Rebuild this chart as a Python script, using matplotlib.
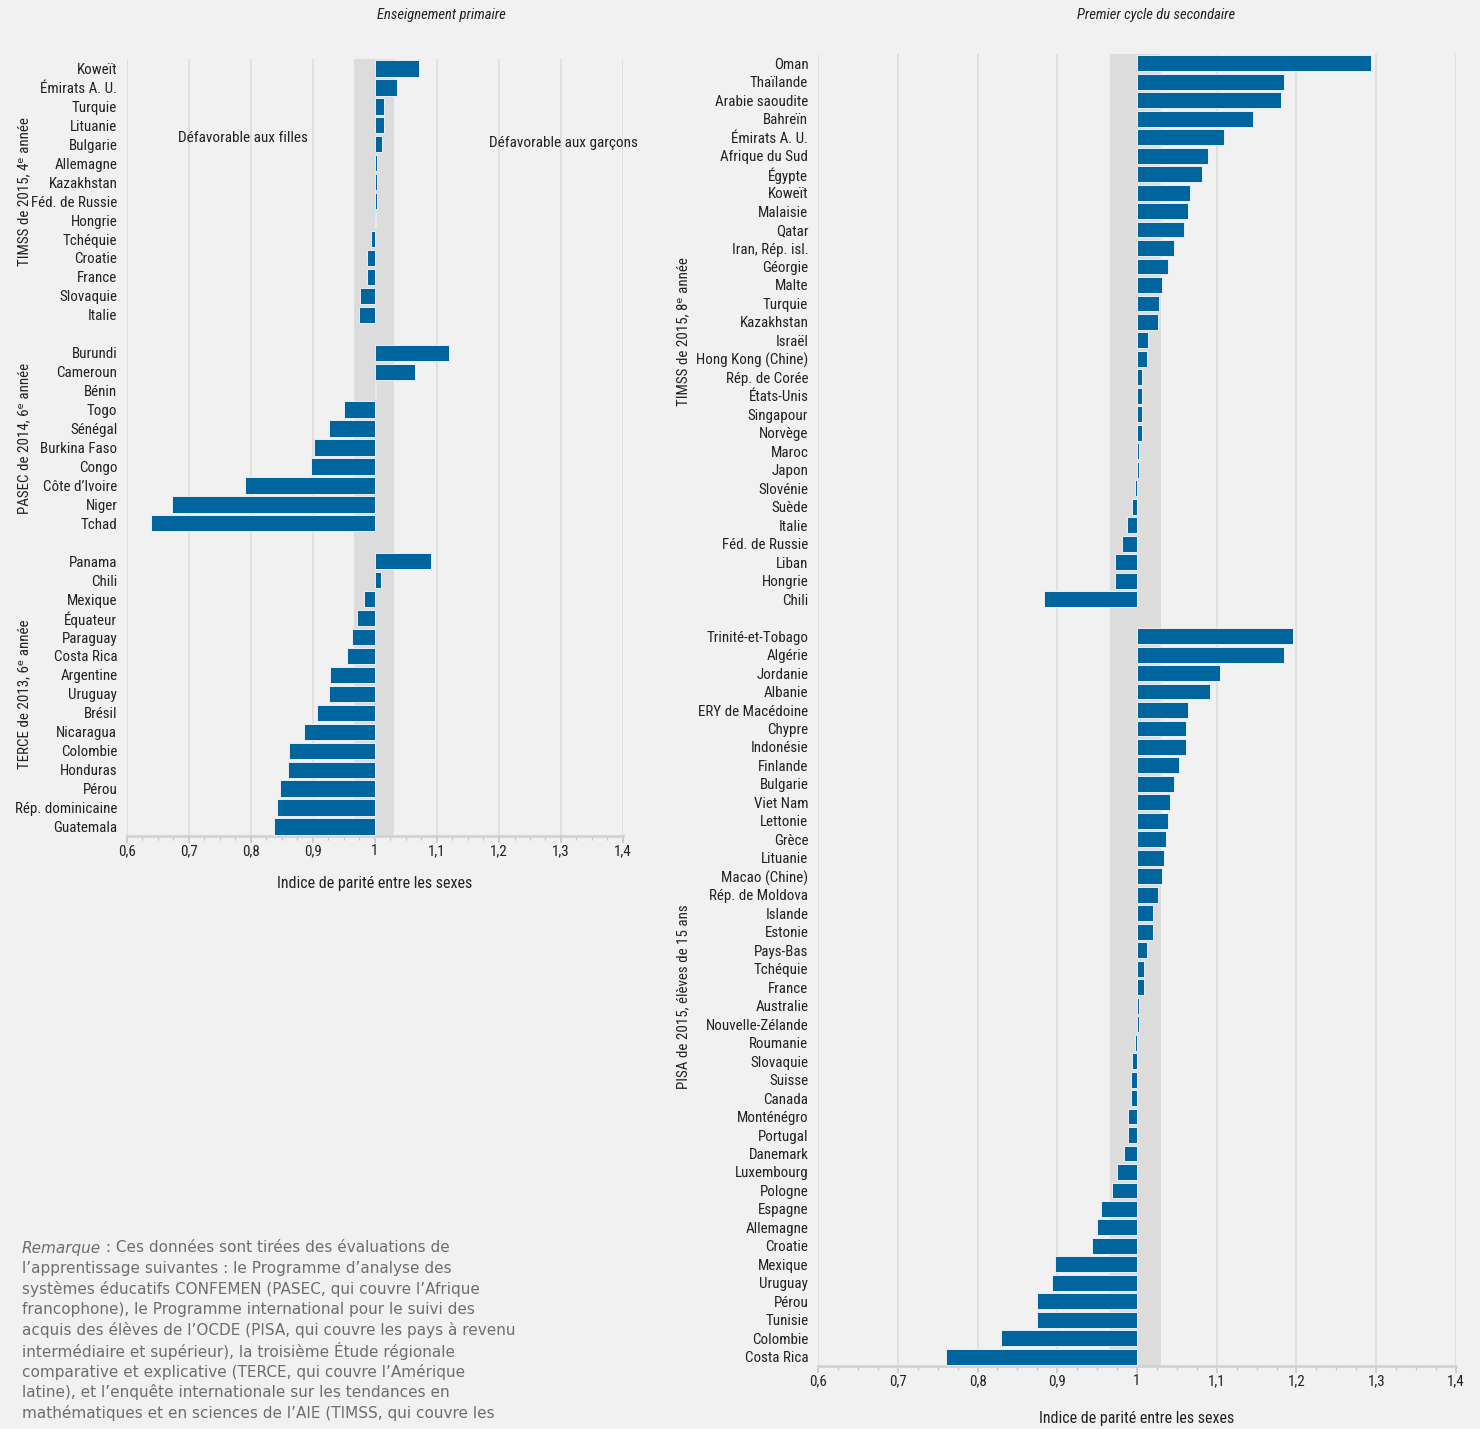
import numpy as np
import matplotlib
matplotlib.use("Agg")
import matplotlib.pyplot as plt
import matplotlib.transforms as mtransforms
from matplotlib import font_manager

# chart data, top to bottom
timss4_countries = ["Koweït", "Émirats A. U.", "Turquie", "Lituanie", "Bulgarie", "Allemagne",
                    "Kazakhstan", "Féd. de Russie", "Hongrie", "Tchéquie", "Croatie", "France",
                    "Slovaquie", "Italie"]
timss4_values = [1.071, 1.035, 1.014, 1.014, 1.011, 1.003, 1.003, 1.003, 1.001, 0.994, 0.987,
                 0.987, 0.976, 0.974]

pasec_countries = ["Burundi", "Cameroun", "Bénin", "Togo", "Sénégal", "Burkina Faso", "Congo",
                   "Côte d’Ivoire", "Niger", "Tchad"]
pasec_values = [1.119, 1.065, 1.001, 0.950, 0.926, 0.901, 0.896, 0.791, 0.673, 0.639]

terce_countries = ["Panama", "Chili", "Mexique", "Équateur", "Paraguay", "Costa Rica", "Argentine",
                   "Uruguay", "Brésil", "Nicaragua", "Colombie", "Honduras", "Pérou",
                   "Rép. dominicaine", "Guatemala"]
terce_values = [1.090, 1.009, 0.982, 0.971, 0.963, 0.955, 0.928, 0.926, 0.907, 0.886, 0.861,
                0.859, 0.847, 0.842, 0.837]

timss8_countries = ["Oman", "Thaïlande", "Arabie saoudite", "Bahreïn", "Émirats A. U.",
                    "Afrique du Sud", "Égypte", "Koweït", "Malaisie", "Qatar", "Iran, Rép. isl.",
                    "Géorgie", "Malte", "Turquie", "Kazakhstan", "Israël", "Hong Kong (Chine)",
                    "Rép. de Corée", "États-Unis", "Singapour", "Norvège", "Maroc", "Japon",
                    "Slovénie", "Suède", "Italie", "Féd. de Russie", "Liban", "Hongrie", "Chili"]
timss8_values = [1.293, 1.184, 1.181, 1.145, 1.109, 1.089, 1.081, 1.067, 1.064, 1.059, 1.047,
                 1.039, 1.031, 1.028, 1.026, 1.014, 1.012, 1.006, 1.006, 1.006, 1.006, 1.003,
                 1.003, 0.998, 0.994, 0.987, 0.981, 0.972, 0.972, 0.884]

pisa_countries = ["Trinité-et-Tobago", "Algérie", "Jordanie", "Albanie", "ERY de Macédoine",
                  "Chypre", "Indonésie", "Finlande", "Bulgarie", "Viet Nam", "Lettonie", "Grèce",
                  "Lituanie", "Macao (Chine)", "Rép. de Moldova", "Islande", "Estonie", "Pays-Bas",
                  "Tchéquie", "France", "Australie", "Nouvelle-Zélande", "Roumanie", "Slovaquie",
                  "Suisse", "Canada", "Monténégro", "Portugal", "Danemark", "Luxembourg",
                  "Pologne", "Espagne", "Allemagne", "Croatie", "Mexique", "Uruguay", "Pérou",
                  "Tunisie", "Colombie", "Costa Rica"]
pisa_values = [1.195, 1.184, 1.104, 1.092, 1.064, 1.061, 1.061, 1.053, 1.047, 1.042, 1.039,
               1.036, 1.034, 1.031, 1.026, 1.020, 1.020, 1.012, 1.009, 1.009, 1.003, 1.003,
               0.998, 0.994, 0.992, 0.992, 0.989, 0.989, 0.984, 0.975, 0.969, 0.955, 0.950,
               0.944, 0.897, 0.894, 0.875, 0.875, 0.830, 0.761]

primary_groups = ["TIMSS de 2015, 4ᵉ année", "PASEC de 2014, 6ᵉ année", "TERCE de 2013, 6ᵉ année"]
secondary_groups = ["TIMSS de 2015, 8ᵉ année", "PISA de 2015, élèves de 15 ans"]

x_ticks = [0.6, 0.7, 0.8, 0.9, 1.0, 1.1, 1.2, 1.3, 1.4]
x_tick_labels = ["0,6", "0,7", "0,8", "0,9", "1", "1,1", "1,2", "1,3", "1,4"]
parity_low, parity_high = 0.966, 1.03

note_lines = [
    " : Ces données sont tirées des évaluations de",
    "l’apprentissage suivantes : le Programme d’analyse des",
    "systèmes éducatifs CONFEMEN (PASEC, qui couvre l’Afrique",
    "francophone), le Programme international pour le suivi des",
    "acquis des élèves de l’OCDE (PISA, qui couvre les pays à revenu",
    "intermédiaire et supérieur), la troisième Étude régionale",
    "comparative et explicative (TERCE, qui couvre l’Amérique",
    "latine), et l’enquête internationale sur les tendances en",
    "mathématiques et en sciences de l’AIE (TIMSS, qui couvre les",
]

BG = "#f1f1f1"
BAR = "#00659c"
GRID = "#dfdfdf"
BAND = "#dcdcdc"
TXT = "#222222"

installed = {f.name for f in font_manager.fontManager.ttflist}
narrow = [f for f in ["Liberation Sans Narrow", "Roboto Condensed", "Open Sans Condensed"] if f in installed]
LABEL_FONT = narrow + ["Roboto", "DejaVu Sans"]
NOTE_FONT = ["DejaVu Sans"]


def build_rows(groups):
    labels, values, spans = [], [], []
    for i, (names, vals) in enumerate(groups):
        if i > 0:
            labels.append("")
            values.append(np.nan)
        start = len(labels)
        labels += names
        values += vals
        spans.append((start, len(labels) - 1))
    return labels, np.array(values, dtype=float), spans


def draw_panel(ax, labels, values, spans, group_names, group_x, xlabel_pad):
    ax.set_facecolor(BG)
    y = np.arange(len(labels))
    ax.axvspan(parity_low, parity_high, color=BAND, zorder=1, lw=0)
    for t in x_ticks:
        if t != 1.0:
            ax.axvline(t, color=GRID, lw=1.3, zorder=0.5)
    ok = ~np.isnan(values)
    ax.barh(y[ok], values[ok] - 1, left=1, height=0.86, color=BAR,
            edgecolor="#e9eef2", linewidth=0.7, zorder=3)
    ax.set_ylim(len(labels) - 0.5, -0.5)
    ax.set_xlim(0.6, 1.4)
    ax.set_yticks(y)
    ax.set_yticklabels(labels, family=LABEL_FONT, fontsize=10.8, color=TXT)
    ax.tick_params(axis="y", length=0, pad=7)
    ax.set_xticks(x_ticks)
    ax.set_xticklabels(x_tick_labels, family=LABEL_FONT, fontsize=10.8, color=TXT)
    ax.set_xticks(np.arange(0.6, 1.4001, 0.025), minor=True)
    ax.tick_params(axis="x", which="major", length=5, color="#c8c8c8", width=1.2, pad=1)
    ax.tick_params(axis="x", which="minor", length=3, color="#c8c8c8", width=1.0)
    for s in ["top", "right", "left"]:
        ax.spines[s].set_visible(False)
    ax.spines["bottom"].set_color("#d2d2d2")
    ax.spines["bottom"].set_linewidth(2)
    ax.set_xlabel("Indice de parité entre les sexes", family=LABEL_FONT, fontsize=11.5,
                  color=TXT, labelpad=xlabel_pad)
    tr = mtransforms.blended_transform_factory(ax.figure.transFigure, ax.transData)
    for (a, b), name in zip(spans, group_names):
        ax.text(group_x, (a + b) / 2, name, transform=tr, rotation=90, ha="center",
                va="center", family=LABEL_FONT, fontsize=10.8, color=TXT)


fig = plt.figure(figsize=(14.8, 14.29), dpi=100, facecolor=BG)
W, H = 1480, 1429

ax1 = fig.add_axes([127 / W, 1 - 836 / H, 496 / W, 777 / H])
lab1, val1, sp1 = build_rows([(timss4_countries, timss4_values),
                              (pasec_countries, pasec_values),
                              (terce_countries, terce_values)])
draw_panel(ax1, lab1, val1, sp1, primary_groups, 24 / W, 13)

ax2 = fig.add_axes([818 / W, 1 - 1366 / H, 638 / W, 1312 / H])
lab2, val2, sp2 = build_rows([(timss8_countries, timss8_values),
                              (pisa_countries, pisa_values)])
draw_panel(ax2, lab2, val2, sp2, secondary_groups, 683 / W, 16)

fig.text(441 / W, 1 - 15 / H, "Enseignement primaire", ha="center", va="center",
         style="italic", family=LABEL_FONT, fontsize=10.5, color=TXT)
fig.text(1156 / W, 1 - 15 / H, "Premier cycle du secondaire", ha="center", va="center",
         style="italic", family=LABEL_FONT, fontsize=10.5, color=TXT)
fig.text(243 / W, 1 - 138 / H, "Défavorable aux filles", ha="center", va="center",
         family=LABEL_FONT, fontsize=11, color=TXT)
fig.text(563 / W, 1 - 143 / H, "Défavorable aux garçons", ha="center", va="center",
         family=LABEL_FONT, fontsize=11, color=TXT)

# note below the left panel
renderer = fig.canvas.get_renderer()
first = fig.text(22 / W, 1 - 1248 / H, "Remarque", ha="left", va="center", style="italic",
                 family=NOTE_FONT, fontsize=11, color="#6e6e6e")
bb = first.get_window_extent(renderer)
for i, line in enumerate(note_lines):
    x = bb.x1 / W if i == 0 else 22 / W
    fig.text(x, 1 - (1248 + i * 20.6) / H, line, ha="left", va="center",
             family=NOTE_FONT, fontsize=11, color="#6e6e6e")

fig.savefig("out.png", dpi=100, facecolor=BG)
